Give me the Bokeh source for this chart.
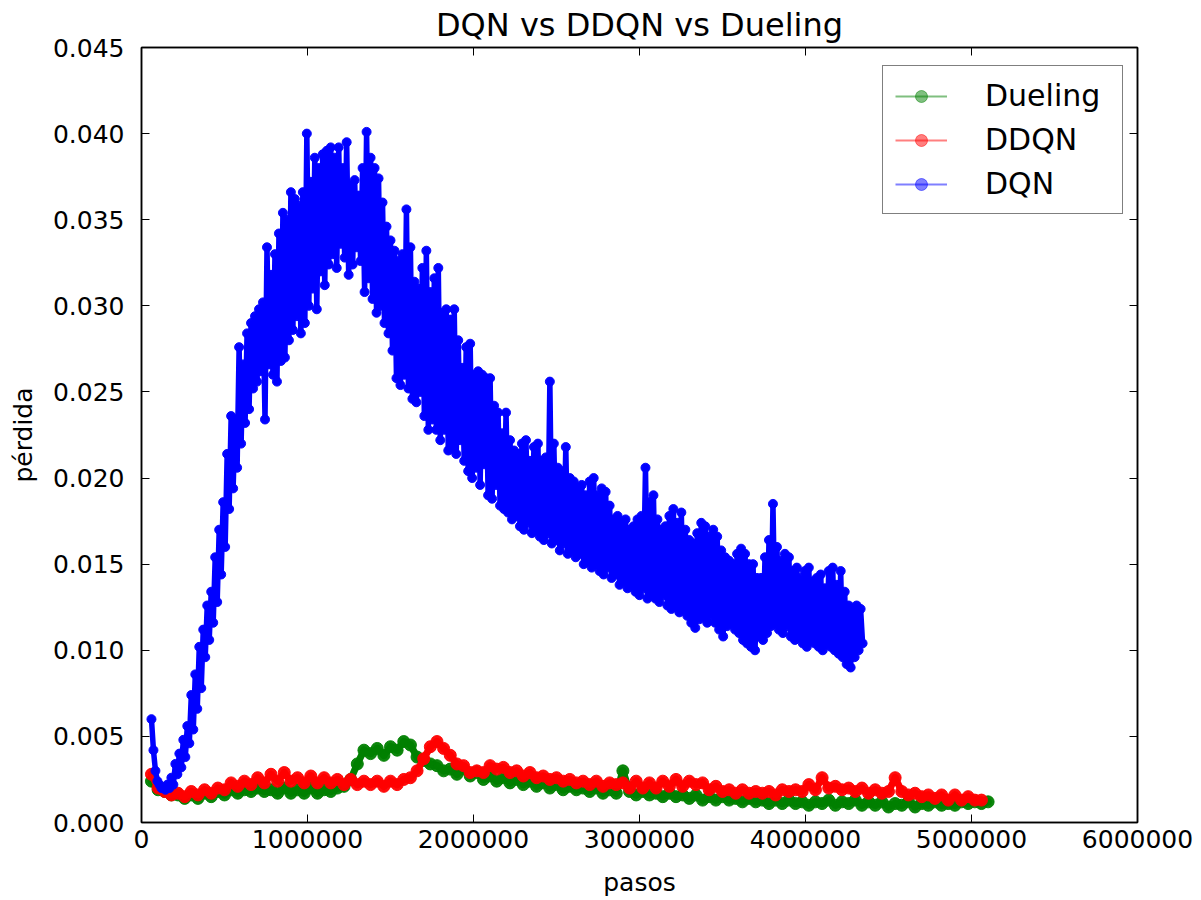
import numpy as np
from bokeh.plotting import figure
from bokeh.models import (Range1d, FixedTicker, LinearAxis, NumeralTickFormatter,
                          PrintfTickFormatter, Legend, LegendItem, ColumnDataSource,
                          CustomLabelingPolicy)
from bokeh.embed import file_html
from bokeh.resources import INLINE

# ---------------- data ----------------
TITLE = "DQN vs DDQN vs Dueling"
X_LABEL = "pasos"
Y_LABEL = "pérdida"
X_TICKS = [0, 1000000, 2000000, 3000000, 4000000, 5000000, 6000000]
Y_TICKS = [0.000, 0.005, 0.010, 0.015, 0.020, 0.025, 0.030, 0.035, 0.040, 0.045]

# DQN: sampled every 12000 steps starting at 60000
DQN_START = 60000
DQN_STEP = 12000
DQN_LOSS = [
    0.0060, 0.0042, 0.0030, 0.0024, 0.0022, 0.0020, 0.0020, 0.0019, 0.0022, 0.0020,
    0.0026, 0.0022, 0.0034, 0.0028, 0.0040, 0.0032, 0.0048, 0.0038, 0.0056, 0.0046,
    0.0074, 0.0054, 0.0086, 0.0066, 0.0102, 0.0078, 0.0112, 0.0096, 0.0126, 0.0106,
    0.0134, 0.0116, 0.0154, 0.0128, 0.0170, 0.0144, 0.0186, 0.0160, 0.0214, 0.0182,
    0.0236, 0.0194, 0.0234, 0.0206, 0.0276, 0.0220, 0.0266, 0.0232, 0.0284, 0.0240,
    0.0290, 0.0252, 0.0294, 0.0256, 0.0298, 0.0262, 0.0302, 0.0234, 0.0334, 0.0266,
    0.0318, 0.0260, 0.0330, 0.0256, 0.0342, 0.0268, 0.0354, 0.0270, 0.0350, 0.0280,
    0.0366, 0.0286, 0.0362, 0.0294, 0.0358, 0.0284, 0.0366, 0.0290, 0.0400, 0.0300,
    0.0372, 0.0310, 0.0386, 0.0298, 0.0380, 0.0320, 0.0388, 0.0312, 0.0390, 0.0324,
    0.0392, 0.0330, 0.0386, 0.0322, 0.0392, 0.0336, 0.0380, 0.0328, 0.0395, 0.0318,
    0.0370, 0.0324, 0.0373, 0.0334, 0.0364, 0.0326, 0.0380, 0.0308, 0.0401, 0.0316,
    0.0386, 0.0304, 0.0380, 0.0296, 0.0374, 0.0300, 0.0360, 0.0290, 0.0346, 0.0284,
    0.0338, 0.0274, 0.0332, 0.0258, 0.0326, 0.0254, 0.0330, 0.0260, 0.0356, 0.0252,
    0.0334, 0.0246, 0.0314, 0.0244, 0.0310, 0.0250, 0.0322, 0.0236, 0.0332, 0.0228,
    0.0308, 0.0234, 0.0316, 0.0228, 0.0322, 0.0222, 0.0296, 0.0228, 0.0298, 0.0216,
    0.0292, 0.0218, 0.0298, 0.0214, 0.0280, 0.0222, 0.0264, 0.0210, 0.0276, 0.0204,
    0.0278, 0.0200, 0.0260, 0.0206, 0.0262, 0.0196, 0.0260, 0.0208, 0.0258, 0.0190,
    0.0258, 0.0188, 0.0242, 0.0196, 0.0238, 0.0184, 0.0226, 0.0182, 0.0238, 0.0180,
    0.0222, 0.0176, 0.0216, 0.0178, 0.0214, 0.0172, 0.0220, 0.0170, 0.0222, 0.0174,
    0.0210, 0.0168, 0.0218, 0.0170, 0.0220, 0.0166, 0.0210, 0.0164, 0.0212, 0.0168,
    0.0256, 0.0162, 0.0220, 0.0164, 0.0206, 0.0158, 0.0204, 0.0162, 0.0218, 0.0156,
    0.0200, 0.0158, 0.0198, 0.0154, 0.0194, 0.0156, 0.0196, 0.0150, 0.0190, 0.0152,
    0.0198, 0.0148, 0.0200, 0.0150, 0.0190, 0.0146, 0.0194, 0.0144, 0.0192, 0.0148,
    0.0184, 0.0142, 0.0176, 0.0144, 0.0178, 0.0138, 0.0174, 0.0140, 0.0176, 0.0136,
    0.0170, 0.0138, 0.0172, 0.0134, 0.0176, 0.0132, 0.0178, 0.0136, 0.0206, 0.0130,
    0.0186, 0.0132, 0.0190, 0.0130, 0.0176, 0.0128, 0.0170, 0.0132, 0.0172, 0.0126,
    0.0178, 0.0124, 0.0182, 0.0126, 0.0174, 0.0122, 0.0180, 0.0124, 0.0170, 0.0120,
    0.0164, 0.0116, 0.0162, 0.0113, 0.0168, 0.0118, 0.0174, 0.0120, 0.0172, 0.0116,
    0.0166, 0.0120, 0.0170, 0.0116, 0.0166, 0.0112, 0.0158, 0.0108, 0.0154, 0.0114,
    0.0152, 0.0116, 0.0150, 0.0112, 0.0156, 0.0110, 0.0159, 0.0106, 0.0156, 0.0104,
    0.0150, 0.0102, 0.0150, 0.0100, 0.0142, 0.0108, 0.0142, 0.0106, 0.0154, 0.0110,
    0.0164, 0.0114, 0.0185, 0.0116, 0.0160, 0.0112, 0.0152, 0.0110, 0.0156, 0.0114,
    0.0154, 0.0108, 0.0146, 0.0106, 0.0148, 0.0108, 0.0142, 0.0104, 0.0146, 0.0102,
    0.0148, 0.0106, 0.0140, 0.0104, 0.0142, 0.0102, 0.0144, 0.0100, 0.0136, 0.0104,
    0.0146, 0.0102, 0.0148, 0.0100, 0.0138, 0.0098, 0.0146, 0.0096, 0.0134, 0.0092,
    0.0126, 0.0090, 0.0124, 0.0096, 0.0126, 0.0100, 0.0124, 0.0104,
]

# Dueling: sampled every 40000 steps starting at 60000
DUELING_START = 60000
DUELING_STEP = 40000
DUELING_LOSS = [
    0.0024, 0.0019, 0.0018, 0.0016, 0.0016, 0.0014, 0.0016, 0.0014, 0.0017, 0.0015,
    0.0018, 0.0016, 0.0019, 0.0017, 0.0019, 0.0018, 0.0020, 0.0018, 0.0019, 0.0017,
    0.0020, 0.0017, 0.0019, 0.0017, 0.0020, 0.0017, 0.0019, 0.0018, 0.0020, 0.0021,
    0.0025, 0.0034, 0.0042, 0.0040, 0.0043, 0.0039, 0.0044, 0.0042, 0.0047, 0.0045,
    0.0038, 0.0036, 0.0034, 0.0033, 0.0030, 0.0031, 0.0028, 0.0031, 0.0027, 0.0029,
    0.0025, 0.0027, 0.0024, 0.0026, 0.0023, 0.0025, 0.0022, 0.0024, 0.0021, 0.0023,
    0.0020, 0.0022, 0.0019, 0.0021, 0.0019, 0.0020, 0.0018, 0.0020, 0.0017, 0.0019,
    0.0017, 0.0030, 0.0018, 0.0016, 0.0018, 0.0016, 0.0017, 0.0015, 0.0017, 0.0015,
    0.0016, 0.0014, 0.0016, 0.0013, 0.0015, 0.0013, 0.0015, 0.0013, 0.0014, 0.0012,
    0.0014, 0.0012, 0.0013, 0.0011, 0.0013, 0.0011, 0.0013, 0.0011, 0.0012, 0.0010,
    0.0012, 0.0011, 0.0013, 0.0010, 0.0012, 0.0011, 0.0013, 0.0010, 0.0012, 0.0010,
    0.0012, 0.0009, 0.0011, 0.0010, 0.0012, 0.0009, 0.0011, 0.0010, 0.0012, 0.0010,
    0.0011, 0.0010, 0.0012, 0.0011, 0.0012, 0.0011, 0.0012,
]

# DDQN: sampled every 40000 steps starting at 60000
DDQN_START = 60000
DDQN_STEP = 40000
DDQN_LOSS = [
    0.0028, 0.0020, 0.0018, 0.0016, 0.0017, 0.0015, 0.0018, 0.0016, 0.0019, 0.0017,
    0.0020, 0.0019, 0.0023, 0.0021, 0.0024, 0.0022, 0.0026, 0.0023, 0.0028, 0.0024,
    0.0029, 0.0024, 0.0026, 0.0023, 0.0027, 0.0023, 0.0026, 0.0023, 0.0025, 0.0022,
    0.0025, 0.0022, 0.0024, 0.0022, 0.0024, 0.0021, 0.0024, 0.0022, 0.0025, 0.0026,
    0.0030, 0.0037, 0.0044, 0.0047, 0.0043, 0.0039, 0.0034, 0.0033, 0.0029, 0.0030,
    0.0029, 0.0033, 0.0031, 0.0032, 0.0029, 0.0030, 0.0027, 0.0029, 0.0026, 0.0027,
    0.0025, 0.0026, 0.0024, 0.0025, 0.0023, 0.0024, 0.0022, 0.0024, 0.0021, 0.0023,
    0.0022, 0.0023, 0.0020, 0.0024, 0.0020, 0.0023, 0.0020, 0.0024, 0.0021, 0.0025,
    0.0021, 0.0024, 0.0022, 0.0023, 0.0019, 0.0021, 0.0018, 0.0019, 0.0017, 0.0019,
    0.0017, 0.0018, 0.0017, 0.0018, 0.0016, 0.0019, 0.0018, 0.0019, 0.0018, 0.0022,
    0.0019, 0.0026, 0.0020, 0.0021, 0.0019, 0.0020, 0.0018, 0.0020, 0.0017, 0.0019,
    0.0017, 0.0018, 0.0026, 0.0018, 0.0016, 0.0017, 0.0015, 0.0016, 0.0014, 0.0016,
    0.0013, 0.0016, 0.0013, 0.0015, 0.0013, 0.0013,
]

SERIES = [
    ("Dueling", DUELING_START, DUELING_STEP, DUELING_LOSS, "#008000"),
    ("DDQN", DDQN_START, DDQN_STEP, DDQN_LOSS, "#ff0000"),
    ("DQN", DQN_START, DQN_STEP, DQN_LOSS, "#0000ff"),
]

FONT = "DejaVu Sans"

# ---------------- figure ----------------
p = figure(width=1200, height=900, output_backend="svg", toolbar_location=None,
           x_range=Range1d(0, 6000000), y_range=Range1d(0, 0.045),
           min_border_left=141, min_border_right=63, min_border_top=47,
           min_border_bottom=78, title=TITLE)
p.xaxis.visible = False
p.yaxis.visible = False
p.grid.visible = False
p.outline_line_color = "black"
p.outline_line_width = 1.5
p.background_fill_color = "white"
p.border_fill_color = "white"

p.title.text_font = FONT
p.title.text_font_size = "32px"
p.title.text_font_style = "normal"
p.title.text_color = "black"
p.title.align = "center"
p.title.standoff = 0

HIDE_ALL = CustomLabelingPolicy(code="for (const i of indices) { indices.unset(i) } return indices")

def style_axis(ax, show_labels):
    ax.major_tick_in = 8
    ax.major_tick_out = 0
    ax.minor_tick_line_color = None
    ax.major_tick_line_color = "black"
    ax.major_tick_line_width = 1
    ax.axis_line_color = "black"
    ax.axis_line_width = 1.5
    ax.major_label_text_font = FONT
    ax.major_label_text_color = "black"
    if show_labels:
        ax.major_label_text_font_size = "25px"
    else:
        ax.major_label_text_font_size = "1px"
        ax.major_label_standoff = 0
        ax.major_label_policy = HIDE_ALL

xb = LinearAxis(ticker=FixedTicker(ticks=X_TICKS), formatter=NumeralTickFormatter(format="0"))
style_axis(xb, True)
xb.major_label_standoff = 7
xb.axis_label = X_LABEL
xb.axis_label_text_font = FONT
xb.axis_label_text_font_size = "25px"
xb.axis_label_text_font_style = "normal"
xb.axis_label_text_color = "black"
xb.axis_label_standoff = 17
p.add_layout(xb, "below")

yl = LinearAxis(ticker=FixedTicker(ticks=Y_TICKS), formatter=PrintfTickFormatter(format="%.3f"))
style_axis(yl, True)
yl.major_label_standoff = 17
yl.axis_label = Y_LABEL
yl.axis_label_text_font = FONT
yl.axis_label_text_font_size = "25px"
yl.axis_label_text_font_style = "normal"
yl.axis_label_text_color = "black"
yl.axis_label_standoff = 12
p.add_layout(yl, "left")

xt = LinearAxis(ticker=FixedTicker(ticks=X_TICKS), formatter=NumeralTickFormatter(format="0"))
style_axis(xt, False)
p.add_layout(xt, "above")

yr = LinearAxis(ticker=FixedTicker(ticks=Y_TICKS), formatter=PrintfTickFormatter(format="%.3f"))
style_axis(yr, False)
p.add_layout(yr, "right")

items = []
for name, start, step, vals, color in SERIES:
    xs = start + step * np.arange(len(vals))
    src = ColumnDataSource(dict(x=xs, y=vals))
    if name == "DQN":
        lw, ms = 5.5, 9
    else:
        lw, ms = 7, 12
    # base layer (dense overlapping points look fully saturated in the reference)
    p.line("x", "y", source=src, line_color=color, line_width=lw, line_alpha=1.0,
           line_join="round", line_cap="round")
    p.scatter("x", "y", source=src, size=ms, fill_color=color, line_color=color,
              fill_alpha=0.95, line_alpha=0.95)
    # overlay layer, also used as the legend glyph (matplotlib alpha 0.5 look)
    lr = p.line("x", "y", source=src, line_color=color, line_width=2, line_alpha=0.5)
    sr = p.scatter("x", "y", source=src, size=7, fill_color=color, line_color=color,
                   fill_alpha=0.5, line_alpha=0.5)
    items.append(LegendItem(label=name, renderers=[lr, sr]))

legend = Legend(items=items, location=(741, 608))
legend.label_text_font = FONT
legend.label_text_font_size = "30px"
legend.label_text_color = "black"
legend.glyph_width = 52
legend.glyph_height = 30
legend.label_standoff = 38
legend.label_width = 125
legend.padding = 12
legend.spacing = 9
legend.margin = 0
legend.border_line_color = "black"
legend.border_line_width = 1.5
legend.background_fill_color = "white"
legend.background_fill_alpha = 1.0
p.add_layout(legend, "center")

open("out.html", "w").write(file_html(p, INLINE))
